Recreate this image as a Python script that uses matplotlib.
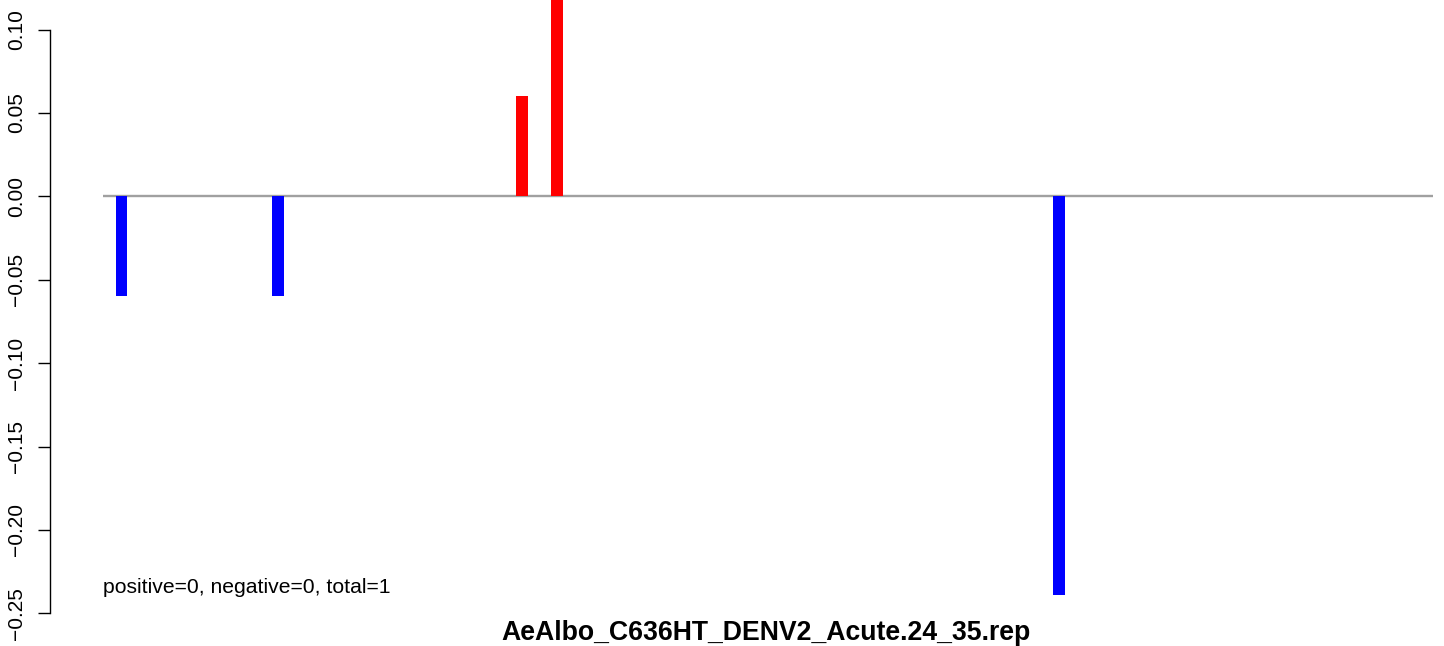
import matplotlib
matplotlib.use("Agg")
import matplotlib.pyplot as plt

# positions along the region (arbitrary units) and scores
positions = [11, 105, 252, 273, 575]
scores = [-0.06, -0.06, 0.06, 0.13, -0.239]
region = (0, 800)
yticks = [0.10, 0.05, 0.00, -0.05, -0.10, -0.15, -0.20, -0.25]
note = "positive=0, negative=0, total=1"
title = "AeAlbo_C636HT_DENV2_Acute.24_35.rep"

plt.rcParams["font.family"] = ["Liberation Sans", "DejaVu Sans"]

W, H = 1444, 646
fig = plt.figure(figsize=(W / 100, H / 100), dpi=100)
# plot region runs a little past the right and top edges of the image
px_left, px_right, px_top, px_bottom = 50, 1483, 0, 620
ax = fig.add_axes([px_left / W, 1 - px_bottom / H,
                   (px_right - px_left) / W, (px_bottom - px_top) / H])

upp = 800 / 1329.4  # data units per pixel on x
ax.set_xlim(region[0] - (103.3 - px_left) * upp, region[0] + (px_right - 103.3) * upp)
ax.set_ylim(-(px_bottom - 196.3) / 1668, 196.3 / 1668)

ax.hlines(0, region[0], region[1], color="#a0a0a0", lw=1.7, zorder=1)
colors = ["red" if s > 0 else "blue" for s in scores]
ax.bar(positions, scores, width=7.0, color=colors, linewidth=0, zorder=2)

ax.text(region[0], -0.2348, note, fontsize=15.2, va="center", ha="left")

for s in ("top", "right", "bottom"):
    ax.spines[s].set_visible(False)
ax.spines["left"].set_bounds(min(yticks), max(yticks))
ax.spines["left"].set_linewidth(1.0)
ax.set_xticks([])
ax.set_yticks(yticks)
ax.set_yticklabels([f"{t:.2f}".replace("-", "\u2212") for t in yticks],
                   rotation=90, va="center", fontsize=15)
ax.tick_params(axis="y", length=9, width=1.0, pad=8.5)

fig.text(766 / W, 1 - 633 / H, title, fontsize=19.2, fontweight="bold",
         ha="center", va="center")

fig.savefig("out.png", dpi=100)
